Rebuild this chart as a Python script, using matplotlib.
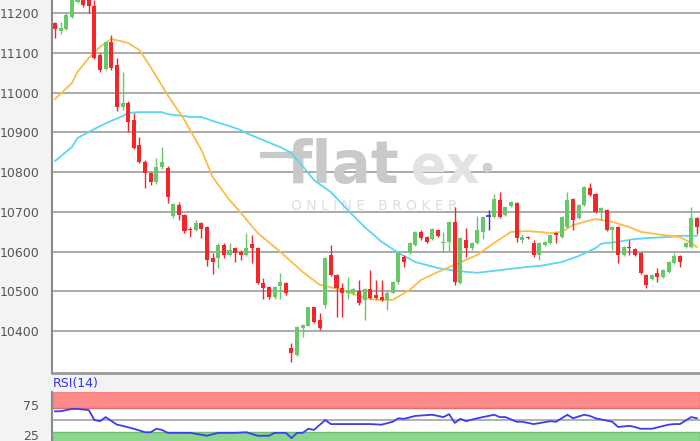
import numpy as np
import matplotlib
matplotlib.use("Agg")
import matplotlib.pyplot as plt

# Daily candles (oldest first)
opens = [11175, 11155, 11160, 11190, 11228, 11242, 11238, 11218, 11095, 11060,
         11127, 11070, 10964, 10974, 10931, 10868, 10826, 10798, 10776, 10813,
         10810, 10690, 10718, 10692, 10658, 10655, 10672, 10662, 10585, 10584,
         10617, 10592, 10610, 10600, 10592, 10620, 10610, 10522, 10512, 10487,
         10515, 10522, 10358, 10340, 10409, 10414, 10460, 10429, 10466, 10592,
         10542, 10509, 10497, 10495, 10500, 10479, 10507, 10492, 10487, 10479,
         10497, 10524, 10587, 10597, 10617, 10650, 10637, 10632, 10655, 10622,
         10625, 10675, 10522, 10630, 10610, 10622, 10650, 10690, 10688, 10730,
         10693, 10715, 10723, 10630, 10637, 10622, 10592, 10617, 10622, 10647,
         10637, 10662, 10732, 10685, 10718, 10760, 10745, 10700, 10705, 10655,
         10662, 10592, 10612, 10607, 10597, 10542, 10532, 10547, 10537, 10549,
         10572, 10590, 10612, 10612, 10685]
closes = [11160, 11162, 11195, 11238, 11242, 11220, 11218, 11088, 11057, 11127,
          11062, 10964, 10974, 10926, 10861, 10826, 10798, 10776, 10813, 10826,
          10738, 10720, 10692, 10652, 10655, 10672, 10657, 10580, 10575, 10617,
          10592, 10605, 10597, 10592, 10610, 10610, 10522, 10510, 10487, 10512,
          10525, 10497, 10345, 10411, 10416, 10460, 10424, 10409, 10584, 10542,
          10509, 10497, 10504, 10505, 10472, 10507, 10484, 10484, 10479, 10497,
          10524, 10597, 10574, 10622, 10650, 10635, 10625, 10657, 10640, 10625,
          10675, 10524, 10635, 10610, 10622, 10655, 10688, 10690, 10733, 10688,
          10713, 10725, 10635, 10637, 10635, 10592, 10622, 10625, 10642, 10642,
          10688, 10730, 10680, 10718, 10763, 10743, 10700, 10710, 10655, 10662,
          10592, 10612, 10610, 10592, 10547, 10517, 10542, 10537, 10554, 10574,
          10590, 10575, 10622, 10685, 10662]
highs = [11178, 11177, 11200, 11245, 11250, 11250, 11245, 11232, 11100, 11130,
         11145, 11087, 11052, 10978, 10950, 10888, 10830, 10800, 10836, 10864,
         10815, 10722, 10726, 10695, 10662, 10680, 10675, 10665, 10597, 10622,
         10622, 10622, 10613, 10605, 10647, 10642, 10612, 10535, 10515, 10515,
         10547, 10525, 10370, 10414, 10418, 10462, 10462, 10447, 10587, 10617,
         10545, 10522, 10537, 10510, 10530, 10510, 10554, 10530, 10529, 10500,
         10527, 10600, 10592, 10625, 10652, 10655, 10640, 10660, 10658, 10650,
         10678, 10713, 10638, 10660, 10625, 10690, 10690, 10705, 10745, 10750,
         10716, 10728, 10726, 10645, 10639, 10630, 10625, 10628, 10645, 10650,
         10690, 10750, 10735, 10720, 10765, 10773, 10748, 10713, 10708, 10665,
         10665, 10614, 10630, 10610, 10600, 10545, 10545, 10560, 10557, 10577,
         10597, 10592, 10625, 10713, 10688]
lows = [11137, 11147, 11157, 11187, 11225, 11215, 11200, 11085, 11052, 11057,
        11058, 10954, 10957, 10901, 10858, 10822, 10760, 10768, 10770, 10808,
        10723, 10685, 10680, 10647, 10637, 10652, 10635, 10565, 10545, 10560,
        10585, 10590, 10575, 10580, 10588, 10572, 10518, 10480, 10480, 10482,
        10480, 10492, 10323, 10338, 10386, 10412, 10420, 10402, 10458, 10538,
        10436, 10436, 10480, 10490, 10467, 10428, 10480, 10480, 10477, 10453,
        10495, 10520, 10562, 10595, 10615, 10630, 10622, 10630, 10637, 10600,
        10600, 10516, 10518, 10587, 10605, 10620, 10632, 10655, 10686, 10685,
        10690, 10712, 10625, 10622, 10633, 10587, 10580, 10614, 10620, 10622,
        10635, 10660, 10655, 10683, 10716, 10740, 10697, 10680, 10652, 10605,
        10572, 10590, 10592, 10590, 10545, 10509, 10530, 10525, 10535, 10547,
        10570, 10562, 10610, 10610, 10645]

# Moving averages, read at selected candles
ma_short_at = [0, 3, 4, 6, 8, 10, 11, 13, 15, 17, 20, 23, 26, 28, 31, 33, 36, 40, 44, 47,
               51, 55, 57, 60, 63, 65, 68, 71, 75, 78, 81, 84, 88, 90, 92, 94, 96, 99, 102, 104,
               108, 111, 113, 114]
ma_short = [10984, 11024, 11052, 11087, 11115, 11135, 11132, 11125, 11107, 11064,
            10994, 10931, 10856, 10788, 10730, 10698, 10647, 10600, 10549, 10517,
            10504, 10484, 10479, 10479, 10504, 10529, 10549, 10567, 10592, 10622,
            10650, 10652, 10647, 10650, 10667, 10675, 10682, 10675, 10662, 10650,
            10642, 10637, 10622, 10612]
ma_long_at = [0, 3, 4, 6, 8, 10, 12, 13, 15, 19, 20, 24, 26, 28, 31, 33, 34, 40, 42, 45,
              46, 49, 52, 55, 58, 61, 64, 68, 71, 75, 78, 84, 86, 90, 93, 96, 97, 100, 103, 106,
              109, 111, 114]
ma_long = [10828, 10863, 10886, 10901, 10916, 10929, 10941, 10949, 10951, 10951,
           10946, 10939, 10939, 10929, 10916, 10906, 10898, 10863, 10848, 10798,
           10780, 10750, 10705, 10662, 10625, 10597, 10574, 10559, 10552, 10547,
           10552, 10562, 10564, 10574, 10589, 10609, 10620, 10625, 10632, 10635,
           10637, 10640, 10640]

# RSI(14), read at selected candles
rsi_at = [0, 1, 3, 4, 6, 7, 8, 9, 11, 12, 14, 16, 17, 18, 19, 20, 23, 24, 27, 29,
          32, 34, 36, 38, 39, 41, 42, 43, 44, 45, 46, 48, 49, 52, 56, 58, 60, 61, 62, 64,
          67, 68, 69, 70, 71, 72, 73, 75, 77, 78, 79, 80, 82, 83, 85, 88, 89, 91, 92, 94,
          95, 96, 99, 100, 102, 103, 104, 106, 109, 110, 111, 113, 114]
rsi = [65, 65, 69, 69, 67, 50, 48, 55, 42, 40, 35, 29, 29, 35, 33, 28, 28, 28, 23, 28,
       28, 29, 23, 23, 28, 28, 19, 28, 28, 35, 33, 50, 43, 43, 43, 42, 47, 53, 52, 57,
       59, 57, 55, 60, 45, 52, 48, 53, 57, 59, 55, 55, 47, 47, 43, 48, 47, 59, 53, 59,
       57, 53, 47, 38, 40, 38, 35, 35, 42, 43, 43, 55, 53]

price_ticks = [10400, 10500, 10600, 10700, 10800, 10900, 11000, 11100, 11200]

up_col = '#66c866'
down_col = '#f5252a'
doji_col = '#3a2fd0'
label_col = '#555555'

fig = plt.figure(figsize=(7, 4.41), dpi=100)
fig.patch.set_facecolor('#f3f3f3')

# --- price panel ---
ax = fig.add_axes([52 / 700, 68 / 441, 648 / 700, 373 / 441])
ax.set_facecolor('white')
ax.set_xlim(-0.53, 114.56)
ax.set_ylim(10295, 11233)
ax.set_yticks(price_ticks)
ax.set_xticks([])
ax.grid(axis='y', color='#aaaaaa', lw=1.4)
ax.set_axisbelow(True)
ax.tick_params(axis='y', length=0, pad=9, labelsize=9, labelcolor=label_col)
for s in ['top', 'right']:
    ax.spines[s].set_visible(False)
ax.spines['left'].set_color('#8a8a8a')
ax.spines['left'].set_linewidth(1.5)
ax.spines['bottom'].set_color('#999999')
ax.spines['bottom'].set_linewidth(2)

# watermark (flatex logo)
wm = '#c9c9c9'
ax.text(0.537, 0.509, 'flat', transform=ax.transAxes, ha='right', va='baseline',
        fontsize=42, fontweight='bold', color=wm, zorder=1)
ax.plot([0.321, 0.372], [0.584, 0.584], transform=ax.transAxes, color=wm, lw=4.5,
        solid_capstyle='butt', zorder=1)
ax.text(0.553, 0.509, 'ex', transform=ax.transAxes, ha='left', va='baseline',
        fontsize=38, fontweight='bold', color='#e3e3e3', zorder=1)
ax.plot([0.672], [0.552], 'o', transform=ax.transAxes, ms=6, color='#cfcfcf', zorder=1)
ax.text(0.498, 0.448, 'O N L I N E   B R O K E R', transform=ax.transAxes,
        ha='center', va='center', fontsize=10, color='#dedede', zorder=1)

# moving averages
ax.plot(ma_long_at, ma_long, color='#5ad6f2', lw=1.3, zorder=2)
ax.plot(ma_short_at, ma_short, color='#fdbb4a', lw=1.3, zorder=2)

# candles
for i in range(len(opens)):
    o, c, h, l = opens[i], closes[i], highs[i], lows[i]
    if c > o:
        col = up_col
    elif c < o:
        col = down_col
    else:
        col = doji_col
    ax.vlines(i, l, h, color=col, lw=1, zorder=3)
    if c == o:
        ax.hlines(o, i - 0.4, i + 0.4, color=col, lw=1.2, zorder=3)
    else:
        ax.bar(i, abs(c - o), bottom=min(o, c), width=0.72, color=col, zorder=3)

# --- RSI panel ---
rx = fig.add_axes([52 / 700, 0, 648 / 700, 49 / 441])
rx.set_facecolor('white')
rx.set_xlim(-0.53, 114.56)
rx.set_ylim(14, 98)
rx.axhspan(70, 100, facecolor='#ff8a8a', edgecolor='#e86a6a', lw=1, zorder=1)
rx.axhspan(0, 30, facecolor='#8ad68a', edgecolor='#6cc06c', lw=1, zorder=1)
rx.axhline(50, color='#aaaaaa', lw=1.3, zorder=1)
rx.plot(rsi_at, rsi, color='#3c3cf0', lw=1.3, zorder=3)
rx.set_yticks([25, 75])
rx.set_xticks([])
rx.tick_params(axis='y', length=0, pad=9, labelsize=9, labelcolor=label_col)
for s in ['top', 'right', 'bottom']:
    rx.spines[s].set_visible(False)
rx.spines['left'].set_color('#8a8a8a')
rx.spines['left'].set_linewidth(1.5)

fig.text(53 / 700, 1 - 384 / 441, 'RSI(14)', color='#3333ee', fontsize=9, va='center', ha='left')

fig.savefig('out.png', dpi=100, facecolor=fig.get_facecolor())
